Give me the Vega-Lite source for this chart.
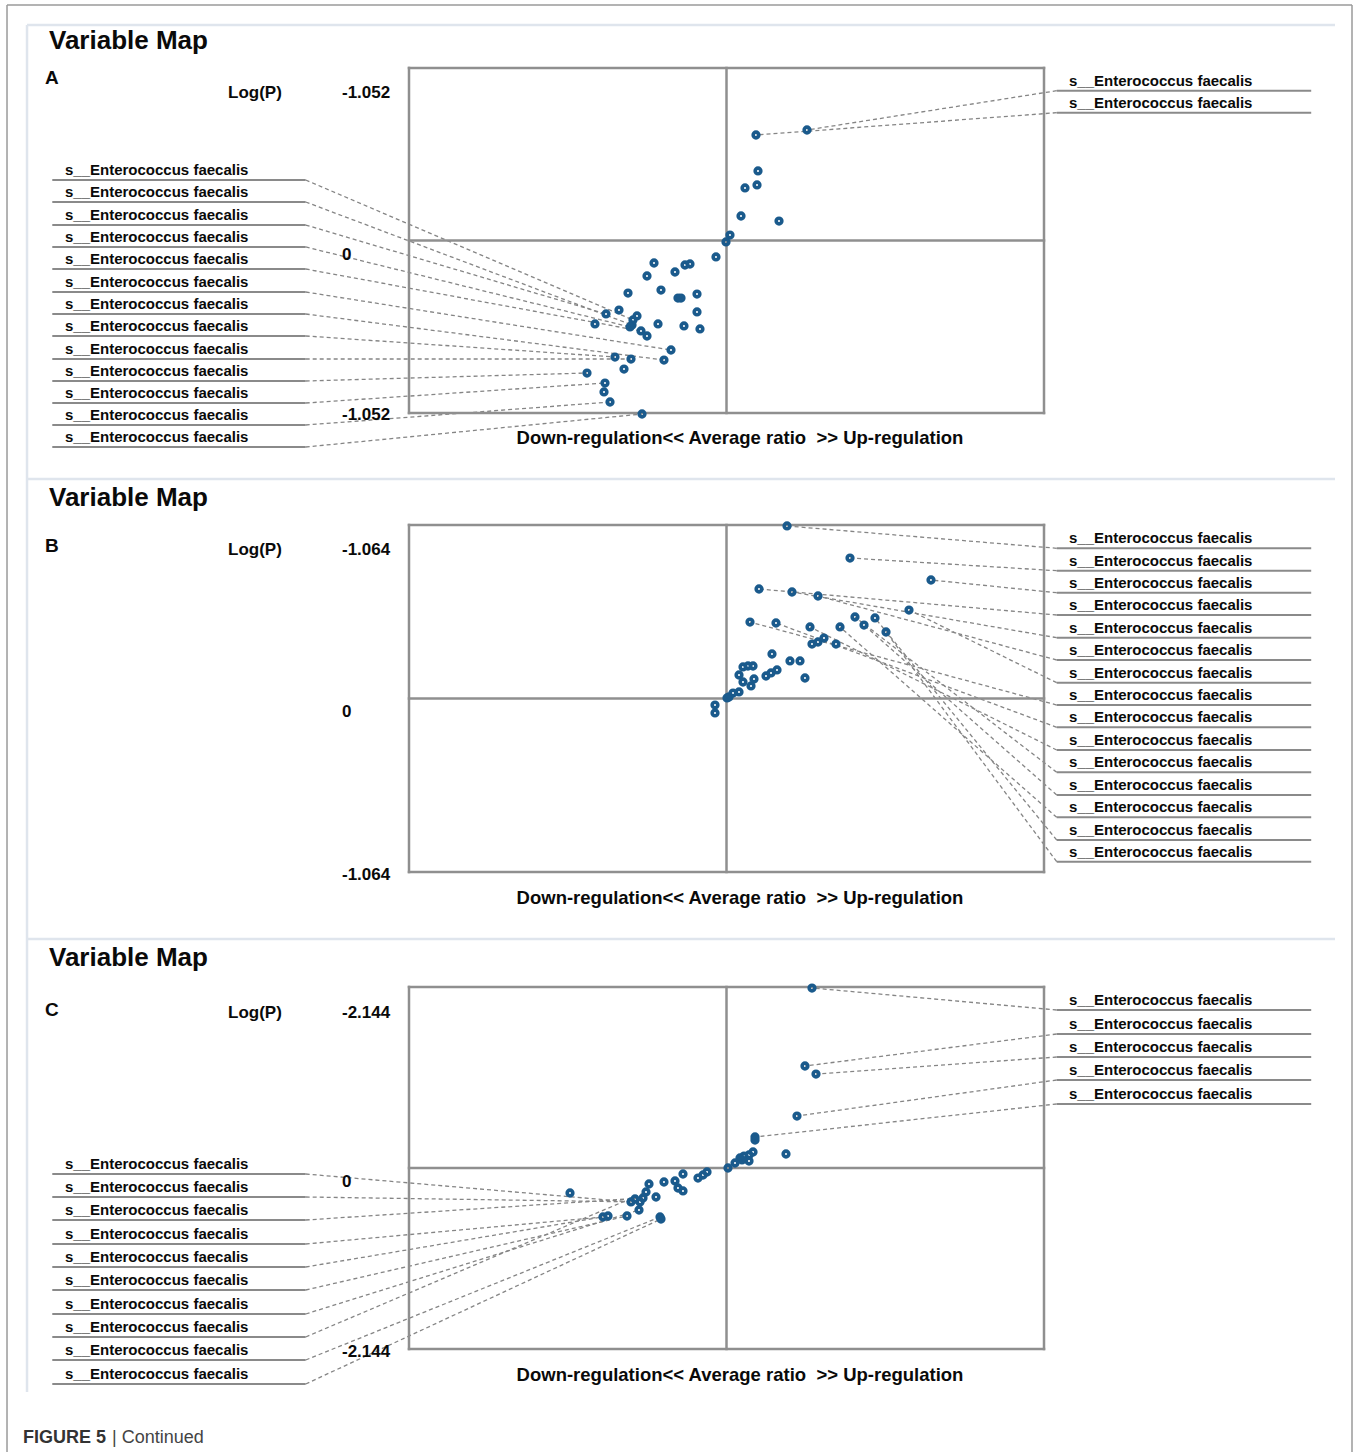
{
"$schema":"https://vega.github.io/schema/vega-lite/v6.json",
"padding":0,"spacing":0,"bounds":"flush","background":"white",
"config":{"view":{"stroke":null},"concat":{"spacing":0}},
"datasets":{
"pA":[{"x":0.0929,"y":0.6434},{"x":0.2535,"y":0.6739},{"x":0.0992,"y":0.4239},{"x":0.0583,"y":0.3202},{"x":0.0961,"y":0.3385},{"x":0.0457,"y":0.1494},{"x":0.1654,"y":0.1189},{"x":0.011,"y":0.0335},{"x":-0.0016,"y":-0.0091},{"x":-0.0331,"y":-0.1006},{"x":-0.2283,"y":-0.1372},{"x":-0.2504,"y":-0.2165},{"x":-0.1622,"y":-0.1921},{"x":-0.1307,"y":-0.1494},{"x":-0.115,"y":-0.1433},{"x":-0.3102,"y":-0.3202},{"x":-0.2063,"y":-0.3019},{"x":-0.1528,"y":-0.3507},{"x":-0.1433,"y":-0.3507},{"x":-0.0929,"y":-0.3263},{"x":-0.0929,"y":-0.436},{"x":-0.3795,"y":-0.4482},{"x":-0.3386,"y":-0.4239},{"x":-0.2819,"y":-0.4604},{"x":-0.2945,"y":-0.4848},{"x":-0.2976,"y":-0.5153},{"x":-0.3039,"y":-0.5275},{"x":-0.4142,"y":-0.5092},{"x":-0.2157,"y":-0.5092},{"x":-0.1339,"y":-0.5214},{"x":-0.0835,"y":-0.5397},{"x":-0.2693,"y":-0.5519},{"x":-0.2504,"y":-0.5824},{"x":-0.1748,"y":-0.6678},{"x":-0.1969,"y":-0.7288},{"x":-0.3512,"y":-0.7105},{"x":-0.3008,"y":-0.7227},{"x":-0.3228,"y":-0.7837},{"x":-0.4394,"y":-0.8081},{"x":-0.3827,"y":-0.8691},{"x":-0.3858,"y":-0.9239},{"x":-0.3669,"y":-0.9849},{"x":-0.2661,"y":-1.0581}],
"labA":[
{"n":"s__Enterococcus faecalis","tx":-2.0835,"u1":-2.1235,"u2":-1.3254,"ax":-1.3254,"uy":0.369,"px":-0.2945,"py":-0.4848},
{"n":"s__Enterococcus faecalis","tx":-2.0835,"u1":-2.1235,"u2":-1.3254,"ax":-1.3254,"uy":0.2348,"px":-0.2976,"py":-0.5153},
{"n":"s__Enterococcus faecalis","tx":-2.0835,"u1":-2.1235,"u2":-1.3254,"ax":-1.3254,"uy":0.0945,"px":-0.3795,"py":-0.4482},
{"n":"s__Enterococcus faecalis","tx":-2.0835,"u1":-2.1235,"u2":-1.3254,"ax":-1.3254,"uy":-0.0396,"px":-0.3039,"py":-0.5275},
{"n":"s__Enterococcus faecalis","tx":-2.0835,"u1":-2.1235,"u2":-1.3254,"ax":-1.3254,"uy":-0.1738,"px":-0.2693,"py":-0.5519},
{"n":"s__Enterococcus faecalis","tx":-2.0835,"u1":-2.1235,"u2":-1.3254,"ax":-1.3254,"uy":-0.3141,"px":-0.1748,"py":-0.6678},
{"n":"s__Enterococcus faecalis","tx":-2.0835,"u1":-2.1235,"u2":-1.3254,"ax":-1.3254,"uy":-0.4482,"px":-0.1969,"py":-0.7288},
{"n":"s__Enterococcus faecalis","tx":-2.0835,"u1":-2.1235,"u2":-1.3254,"ax":-1.3254,"uy":-0.5824,"px":-0.3512,"py":-0.7105},
{"n":"s__Enterococcus faecalis","tx":-2.0835,"u1":-2.1235,"u2":-1.3254,"ax":-1.3254,"uy":-0.7227,"px":-0.3008,"py":-0.7227},
{"n":"s__Enterococcus faecalis","tx":-2.0835,"u1":-2.1235,"u2":-1.3254,"ax":-1.3254,"uy":-0.8569,"px":-0.4394,"py":-0.8081},
{"n":"s__Enterococcus faecalis","tx":-2.0835,"u1":-2.1235,"u2":-1.3254,"ax":-1.3254,"uy":-0.991,"px":-0.3827,"py":-0.8691},
{"n":"s__Enterococcus faecalis","tx":-2.0835,"u1":-2.1235,"u2":-1.3254,"ax":-1.3254,"uy":-1.1252,"px":-0.3669,"py":-0.9849},
{"n":"s__Enterococcus faecalis","tx":-2.0835,"u1":-2.1235,"u2":-1.3254,"ax":-1.3254,"uy":-1.2594,"px":-0.2661,"py":-1.0581},
{"n":"s__Enterococcus faecalis","tx":1.0787,"u1":1.04,"u2":1.8416,"ax":1.04,"uy":0.9136,"px":0.2535,"py":0.6739},
{"n":"s__Enterococcus faecalis","tx":1.0787,"u1":1.04,"u2":1.8416,"ax":1.04,"uy":0.7794,"px":0.0929,"py":0.6434}],
"dA":[
{"k":"frame","x":-2.2661,"x2":1.9701,"y":1.4362,"y2":1.4362},{"k":"frame","x":-2.2661,"x2":-2.2661,"y":1.4362,"y2":-1.4606},{"k":"frame","x":1.9701,"x2":1.9701,"y":1.4362,"y2":-1.4606},
{"k":"faint","x":-2.2031,"x2":1.9165,"y":1.3142,"y2":1.3142},{"k":"faint","x":-2.2031,"x2":1.9165,"y":-1.4545,"y2":-1.4545},{"k":"faint","x":-2.2031,"x2":-2.2031,"y":1.3142,"y2":-1.4606},
{"k":"axis","x":-1,"x2":1,"y":1.052,"y2":1.052},{"k":"axis","x":-1,"x2":1,"y":-1.052,"y2":-1.052},{"k":"axis","x":-1,"x2":-1,"y":-1.052,"y2":1.052},{"k":"axis","x":1,"x2":1,"y":-1.052,"y2":1.052},{"k":"axis","x":0,"x2":0,"y":-1.052,"y2":1.052},{"k":"axis","x":-1,"x2":1,"y":0,"y2":0}],
"tA":[{"k":"title","t":"Variable Map","x":-2.1339,"y":1.2167},{"k":"letter","t":"A","x":-2.1465,"y":0.991},{"k":"tick","t":"Log(P)","x":-1.5701,"y":0.8995},{"k":"tick","t":"-1.052","x":-1.211,"y":0.8995},{"k":"tick","t":"0","x":-1.211,"y":-0.0884},{"k":"tick","t":"-1.052","x":-1.211,"y":-1.0642},{"k":"xtitle","t":"Down-regulation<< Average ratio\u00a0 >> Up-regulation","x":0.0425,"y":-1.2045}],
"pB":[{"x":0.1906,"y":1.0579},{"x":0.389,"y":0.8616},{"x":0.6441,"y":0.7267},{"x":0.1024,"y":0.6715},{"x":0.2063,"y":0.6531},{"x":0.2882,"y":0.6286},{"x":0.5748,"y":0.5427},{"x":0.074,"y":0.4691},{"x":0.1559,"y":0.463},{"x":0.263,"y":0.4385},{"x":0.3575,"y":0.4385},{"x":0.4047,"y":0.4998},{"x":0.4331,"y":0.4507},{"x":0.4677,"y":0.4937},{"x":0.5024,"y":0.4078},{"x":0.2693,"y":0.3342},{"x":0.2882,"y":0.3465},{"x":0.3071,"y":0.371},{"x":0.3449,"y":0.3342},{"x":0.1433,"y":0.2729},{"x":0.2,"y":0.23},{"x":0.2315,"y":0.23},{"x":0.2472,"y":0.1257},{"x":0.052,"y":0.1932},{"x":0.0677,"y":0.1993},{"x":0.0835,"y":0.1993},{"x":0.0394,"y":0.1441},{"x":0.052,"y":0.1012},{"x":0.0866,"y":0.1196},{"x":0.0772,"y":0.0767},{"x":0.1244,"y":0.138},{"x":0.1402,"y":0.1564},{"x":0.1591,"y":0.1748},{"x":0.0394,"y":0.0399},{"x":0.0205,"y":0.0337},{"x":0.0079,"y":0.0092},{"x":0.0016,"y":0.0031},{"x":-0.0362,"y":-0.0399},{"x":-0.0362,"y":-0.0889}],
"labB":[
{"n":"s__Enterococcus faecalis","tx":1.0787,"u1":1.04,"u2":1.8416,"ax":1.04,"uy":0.9211,"px":0.1906,"py":1.0579},
{"n":"s__Enterococcus faecalis","tx":1.0787,"u1":1.04,"u2":1.8416,"ax":1.04,"uy":0.7837,"px":0.389,"py":0.8616},
{"n":"s__Enterococcus faecalis","tx":1.0787,"u1":1.04,"u2":1.8416,"ax":1.04,"uy":0.6488,"px":0.6441,"py":0.7267},
{"n":"s__Enterococcus faecalis","tx":1.0787,"u1":1.04,"u2":1.8416,"ax":1.04,"uy":0.5121,"px":0.1024,"py":0.6715},
{"n":"s__Enterococcus faecalis","tx":1.0787,"u1":1.04,"u2":1.8416,"ax":1.04,"uy":0.3729,"px":0.2063,"py":0.6531},
{"n":"s__Enterococcus faecalis","tx":1.0787,"u1":1.04,"u2":1.8416,"ax":1.04,"uy":0.2361,"px":0.2882,"py":0.6286},
{"n":"s__Enterococcus faecalis","tx":1.0787,"u1":1.04,"u2":1.8416,"ax":1.04,"uy":0.0969,"px":0.5748,"py":0.5427},
{"n":"s__Enterococcus faecalis","tx":1.0787,"u1":1.04,"u2":1.8416,"ax":1.04,"uy":-0.0399,"px":0.074,"py":0.4691},
{"n":"s__Enterococcus faecalis","tx":1.0787,"u1":1.04,"u2":1.8416,"ax":1.04,"uy":-0.1766,"px":0.1559,"py":0.463},
{"n":"s__Enterococcus faecalis","tx":1.0787,"u1":1.04,"u2":1.8416,"ax":1.04,"uy":-0.3158,"px":0.263,"py":0.4385},
{"n":"s__Enterococcus faecalis","tx":1.0787,"u1":1.04,"u2":1.8416,"ax":1.04,"uy":-0.4526,"px":0.4047,"py":0.4998},
{"n":"s__Enterococcus faecalis","tx":1.0787,"u1":1.04,"u2":1.8416,"ax":1.04,"uy":-0.5918,"px":0.4331,"py":0.4507},
{"n":"s__Enterococcus faecalis","tx":1.0787,"u1":1.04,"u2":1.8416,"ax":1.04,"uy":-0.7286,"px":0.3575,"py":0.4385},
{"n":"s__Enterococcus faecalis","tx":1.0787,"u1":1.04,"u2":1.8416,"ax":1.04,"uy":-0.8678,"px":0.4677,"py":0.4937},
{"n":"s__Enterococcus faecalis","tx":1.0787,"u1":1.04,"u2":1.8416,"ax":1.04,"uy":-1.0008,"px":0.5024,"py":0.4078}],
"dB":[
{"k":"frame","x":-2.2661,"x2":-2.2661,"y":1.34,"y2":-1.481},{"k":"frame","x":1.9701,"x2":1.9701,"y":1.34,"y2":-1.481},
{"k":"faint","x":-2.2031,"x2":1.9165,"y":-1.4749,"y2":-1.4749},{"k":"faint","x":-2.2031,"x2":-2.2031,"y":1.34,"y2":-1.481},
{"k":"axis","x":-1,"x2":1,"y":1.064,"y2":1.064},{"k":"axis","x":-1,"x2":1,"y":-1.064,"y2":-1.064},{"k":"axis","x":-1,"x2":-1,"y":-1.064,"y2":1.064},{"k":"axis","x":1,"x2":1,"y":-1.064,"y2":1.064},{"k":"axis","x":0,"x2":0,"y":-1.064,"y2":1.064},{"k":"axis","x":-1,"x2":1,"y":0,"y2":0}],
"tB":[{"k":"title","t":"Variable Map","x":-2.1339,"y":1.2296},{"k":"letter","t":"B","x":-2.1465,"y":0.9352},{"k":"tick","t":"Log(P)","x":-1.5701,"y":0.9107},{"k":"tick","t":"-1.064","x":-1.211,"y":0.9107},{"k":"tick","t":"0","x":-1.211,"y":-0.0828},{"k":"tick","t":"-1.064","x":-1.211,"y":-1.0824},{"k":"xtitle","t":"Down-regulation<< Average ratio\u00a0 >> Up-regulation","x":0.0425,"y":-1.2235}],
"pC":[{"x":0.2693,"y":2.1321},{"x":0.2472,"y":1.2082},{"x":0.2819,"y":1.1134},{"x":0.222,"y":0.6159},{"x":0.0898,"y":0.3672},{"x":0.0898,"y":0.3317},{"x":0.1874,"y":0.1658},{"x":0.0835,"y":0.1895},{"x":0.0709,"y":0.154},{"x":0.0551,"y":0.1421},{"x":0.0425,"y":0.1185},{"x":0.0709,"y":0.0829},{"x":0.0488,"y":0.0948},{"x":0.0268,"y":0.0592},{"x":0.0047,"y":0},{"x":-0.0614,"y":-0.0474},{"x":-0.074,"y":-0.0829},{"x":-0.0898,"y":-0.1185},{"x":-0.137,"y":-0.0711},{"x":-0.1622,"y":-0.154},{"x":-0.1528,"y":-0.2369},{"x":-0.137,"y":-0.2724},{"x":-0.1969,"y":-0.1658},{"x":-0.2441,"y":-0.1895},{"x":-0.2535,"y":-0.2843},{"x":-0.222,"y":-0.3435},{"x":-0.263,"y":-0.3554},{"x":-0.2724,"y":-0.4027},{"x":-0.2756,"y":-0.4975},{"x":-0.3008,"y":-0.4027},{"x":-0.2882,"y":-0.3672},{"x":-0.4929,"y":-0.2961},{"x":-0.389,"y":-0.5804},{"x":-0.3732,"y":-0.5686},{"x":-0.3134,"y":-0.5686},{"x":-0.2094,"y":-0.5804},{"x":-0.2063,"y":-0.6041}],
"labC":[
{"n":"s__Enterococcus faecalis","tx":-2.0835,"u1":-2.1235,"u2":-1.3254,"ax":-1.3254,"uy":-0.0711,"px":-0.3008,"py":-0.4027},
{"n":"s__Enterococcus faecalis","tx":-2.0835,"u1":-2.1235,"u2":-1.3254,"ax":-1.3254,"uy":-0.3435,"px":-0.2724,"py":-0.4027},
{"n":"s__Enterococcus faecalis","tx":-2.0835,"u1":-2.1235,"u2":-1.3254,"ax":-1.3254,"uy":-0.6159,"px":-0.263,"py":-0.3554},
{"n":"s__Enterococcus faecalis","tx":-2.0835,"u1":-2.1235,"u2":-1.3254,"ax":-1.3254,"uy":-0.9002,"px":-0.389,"py":-0.5804},
{"n":"s__Enterococcus faecalis","tx":-2.0835,"u1":-2.1235,"u2":-1.3254,"ax":-1.3254,"uy":-1.1727,"px":-0.3732,"py":-0.5686},
{"n":"s__Enterococcus faecalis","tx":-2.0835,"u1":-2.1235,"u2":-1.3254,"ax":-1.3254,"uy":-1.4451,"px":-0.3134,"py":-0.5686},
{"n":"s__Enterococcus faecalis","tx":-2.0835,"u1":-2.1235,"u2":-1.3254,"ax":-1.3254,"uy":-1.7294,"px":-0.2756,"py":-0.4975},
{"n":"s__Enterococcus faecalis","tx":-2.0835,"u1":-2.1235,"u2":-1.3254,"ax":-1.3254,"uy":-2.0018,"px":-0.2535,"py":-0.2843},
{"n":"s__Enterococcus faecalis","tx":-2.0835,"u1":-2.1235,"u2":-1.3254,"ax":-1.3254,"uy":-2.2742,"px":-0.2094,"py":-0.5804},
{"n":"s__Enterococcus faecalis","tx":-2.0835,"u1":-2.1235,"u2":-1.3254,"ax":-1.3254,"uy":-2.5585,"px":-0.2063,"py":-0.6041},
{"n":"s__Enterococcus faecalis","tx":1.0787,"u1":1.04,"u2":1.8416,"ax":1.04,"uy":1.8715,"px":0.2693,"py":2.1321},
{"n":"s__Enterococcus faecalis","tx":1.0787,"u1":1.04,"u2":1.8416,"ax":1.04,"uy":1.5872,"px":0.2472,"py":1.2082},
{"n":"s__Enterococcus faecalis","tx":1.0787,"u1":1.04,"u2":1.8416,"ax":1.04,"uy":1.3148,"px":0.2819,"py":1.1134},
{"n":"s__Enterococcus faecalis","tx":1.0787,"u1":1.04,"u2":1.8416,"ax":1.04,"uy":1.0424,"px":0.222,"py":0.6159},
{"n":"s__Enterococcus faecalis","tx":1.0787,"u1":1.04,"u2":1.8416,"ax":1.04,"uy":0.7581,"px":0.0898,"py":0.3672}],
"dC":[
{"k":"frame","x":-2.2661,"x2":-2.2661,"y":2.7007,"y2":-2.748},{"k":"frame","x":1.9701,"x2":1.9701,"y":2.7007,"y2":-2.748},
{"k":"faint","x":-2.2031,"x2":-2.2031,"y":2.7007,"y2":-2.6533},
{"k":"axis","x":-1,"x2":1,"y":2.144,"y2":2.144},{"k":"axis","x":-1,"x2":1,"y":-2.144,"y2":-2.144},{"k":"axis","x":-1,"x2":-1,"y":-2.144,"y2":2.144},{"k":"axis","x":1,"x2":1,"y":-2.144,"y2":2.144},{"k":"axis","x":0,"x2":0,"y":-2.144,"y2":2.144},{"k":"axis","x":-1,"x2":1,"y":0,"y2":0}],
"tC":[{"k":"title","t":"Variable Map","x":-2.1339,"y":2.4875},{"k":"letter","t":"C","x":-2.1465,"y":1.8715},{"k":"tick","t":"Log(P)","x":-1.5701,"y":1.836},{"k":"tick","t":"-2.144","x":-1.211,"y":1.836},{"k":"tick","t":"0","x":-1.211,"y":-0.1658},{"k":"tick","t":"-2.144","x":-1.211,"y":-2.1795},{"k":"xtitle","t":"Down-regulation<< Average ratio\u00a0 >> Up-regulation","x":0.0425,"y":-2.4519}],
"dF":[{"k":"frame","x":-2.2661,"x2":-2.2661,"y":1,"y2":0},{"k":"frame","x":1.9701,"x2":1.9701,"y":1,"y2":0}],
"tF":[{"k":"b","t":"FIGURE 5","x":-2.2157,"y":0.27},{"k":"r","t":"| Continued","x":-1.9354,"y":0.27}]
},
"vconcat":[
{"width":1356,"height":480,
"layer":[
{"data":{"name":"dA"},"transform":[{"filter":"datum.k=='faint'"}],"mark":{"type":"rule","color":"#dfe5ed","strokeWidth":2.5},"encoding":{"x":{"field":"x","type":"quantitative","scale":{"domain":[-1,1],"range":[409,1044],"nice":false,"zero":false},"axis":null},"x2":{"field":"x2"},"y":{"field":"y","type":"quantitative","scale":{"domain":[-1.052,1.052],"range":[413,68],"nice":false,"zero":false},"axis":null},"y2":{"field":"y2"}}},
{"data":{"name":"dA"},"transform":[{"filter":"datum.k=='frame'"}],"mark":{"type":"rule","color":"#9a9a9a","strokeWidth":1.5},"encoding":{"x":{"field":"x","type":"quantitative","scale":{"domain":[-1,1],"range":[409,1044],"nice":false,"zero":false},"axis":null},"x2":{"field":"x2"},"y":{"field":"y","type":"quantitative","scale":{"domain":[-1.052,1.052],"range":[413,68],"nice":false,"zero":false},"axis":null},"y2":{"field":"y2"}}},
{"data":{"name":"labA"},"mark":{"type":"rule","color":"#858585","strokeWidth":1.3,"strokeDash":[4,3]},"encoding":{"x":{"field":"ax","type":"quantitative","scale":{"domain":[-1,1],"range":[409,1044],"nice":false,"zero":false},"axis":null},"x2":{"field":"px"},"y":{"field":"uy","type":"quantitative","scale":{"domain":[-1.052,1.052],"range":[413,68],"nice":false,"zero":false},"axis":null},"y2":{"field":"py"}}},
{"data":{"name":"dA"},"transform":[{"filter":"datum.k=='axis'"}],"mark":{"type":"rule","color":"#8f8f8f","strokeWidth":2.5,"strokeCap":"square"},"encoding":{"x":{"field":"x","type":"quantitative","scale":{"domain":[-1,1],"range":[409,1044],"nice":false,"zero":false},"axis":null},"x2":{"field":"x2"},"y":{"field":"y","type":"quantitative","scale":{"domain":[-1.052,1.052],"range":[413,68],"nice":false,"zero":false},"axis":null},"y2":{"field":"y2"}}},
{"data":{"name":"labA"},"mark":{"type":"rule","color":"#8a8a8a","strokeWidth":2},"encoding":{"x":{"field":"u1","type":"quantitative","scale":{"domain":[-1,1],"range":[409,1044],"nice":false,"zero":false},"axis":null},"x2":{"field":"u2"},"y":{"field":"uy","type":"quantitative","scale":{"domain":[-1.052,1.052],"range":[413,68],"nice":false,"zero":false},"axis":null},"y2":{"field":"uy"}}},
{"data":{"name":"labA"},"mark":{"type":"text","align":"left","baseline":"alphabetic","dy":-5,"font":"Liberation Sans","fontSize":15,"fontWeight":"bold","color":"#0a0a0a"},"encoding":{"x":{"field":"tx","type":"quantitative","scale":{"domain":[-1,1],"range":[409,1044],"nice":false,"zero":false},"axis":null},"y":{"field":"uy","type":"quantitative","scale":{"domain":[-1.052,1.052],"range":[413,68],"nice":false,"zero":false},"axis":null},"text":{"field":"n","type":"nominal"}}},
{"data":{"name":"pA"},"mark":{"type":"point","shape":"circle","filled":false,"stroke":"#1a5a8c","strokeWidth":3.6,"size":32,"opacity":1},"encoding":{"x":{"field":"x","type":"quantitative","scale":{"domain":[-1,1],"range":[409,1044],"nice":false,"zero":false},"axis":null},"y":{"field":"y","type":"quantitative","scale":{"domain":[-1.052,1.052],"range":[413,68],"nice":false,"zero":false},"axis":null}}},
{"data":{"name":"tA"},"transform":[{"filter":"datum.k=='title'"}],"mark":{"type":"text","align":"left","baseline":"middle","font":"Liberation Sans","fontSize":26,"fontWeight":"bold","color":"#0a0a0a"},"encoding":{"x":{"field":"x","type":"quantitative","scale":{"domain":[-1,1],"range":[409,1044],"nice":false,"zero":false},"axis":null},"y":{"field":"y","type":"quantitative","scale":{"domain":[-1.052,1.052],"range":[413,68],"nice":false,"zero":false},"axis":null},"text":{"field":"t","type":"nominal"}}},
{"data":{"name":"tA"},"transform":[{"filter":"datum.k=='letter'"}],"mark":{"type":"text","align":"left","baseline":"middle","font":"Liberation Sans","fontSize":19,"fontWeight":"bold","color":"#0a0a0a"},"encoding":{"x":{"field":"x","type":"quantitative","scale":{"domain":[-1,1],"range":[409,1044],"nice":false,"zero":false},"axis":null},"y":{"field":"y","type":"quantitative","scale":{"domain":[-1.052,1.052],"range":[413,68],"nice":false,"zero":false},"axis":null},"text":{"field":"t","type":"nominal"}}},
{"data":{"name":"tA"},"transform":[{"filter":"datum.k=='tick'"}],"mark":{"type":"text","align":"left","baseline":"middle","font":"Liberation Sans","fontSize":17,"fontWeight":"bold","color":"#0a0a0a"},"encoding":{"x":{"field":"x","type":"quantitative","scale":{"domain":[-1,1],"range":[409,1044],"nice":false,"zero":false},"axis":null},"y":{"field":"y","type":"quantitative","scale":{"domain":[-1.052,1.052],"range":[413,68],"nice":false,"zero":false},"axis":null},"text":{"field":"t","type":"nominal"}}},
{"data":{"name":"tA"},"transform":[{"filter":"datum.k=='xtitle'"}],"mark":{"type":"text","align":"center","baseline":"middle","font":"Liberation Sans","fontSize":18.5,"fontWeight":"bold","color":"#0a0a0a"},"encoding":{"x":{"field":"x","type":"quantitative","scale":{"domain":[-1,1],"range":[409,1044],"nice":false,"zero":false},"axis":null},"y":{"field":"y","type":"quantitative","scale":{"domain":[-1.052,1.052],"range":[413,68],"nice":false,"zero":false},"axis":null},"text":{"field":"t","type":"nominal"}}}
]},
{"width":1356,"height":460,
"layer":[
{"data":{"name":"dB"},"transform":[{"filter":"datum.k=='faint'"}],"mark":{"type":"rule","color":"#dfe5ed","strokeWidth":2.5},"encoding":{"x":{"field":"x","type":"quantitative","scale":{"domain":[-1,1],"range":[409,1044],"nice":false,"zero":false},"axis":null},"x2":{"field":"x2"},"y":{"field":"y","type":"quantitative","scale":{"domain":[-1.064,1.064],"range":[392,45],"nice":false,"zero":false},"axis":null},"y2":{"field":"y2"}}},
{"data":{"name":"dB"},"transform":[{"filter":"datum.k=='frame'"}],"mark":{"type":"rule","color":"#9a9a9a","strokeWidth":1.5},"encoding":{"x":{"field":"x","type":"quantitative","scale":{"domain":[-1,1],"range":[409,1044],"nice":false,"zero":false},"axis":null},"x2":{"field":"x2"},"y":{"field":"y","type":"quantitative","scale":{"domain":[-1.064,1.064],"range":[392,45],"nice":false,"zero":false},"axis":null},"y2":{"field":"y2"}}},
{"data":{"name":"labB"},"mark":{"type":"rule","color":"#858585","strokeWidth":1.3,"strokeDash":[4,3]},"encoding":{"x":{"field":"ax","type":"quantitative","scale":{"domain":[-1,1],"range":[409,1044],"nice":false,"zero":false},"axis":null},"x2":{"field":"px"},"y":{"field":"uy","type":"quantitative","scale":{"domain":[-1.064,1.064],"range":[392,45],"nice":false,"zero":false},"axis":null},"y2":{"field":"py"}}},
{"data":{"name":"dB"},"transform":[{"filter":"datum.k=='axis'"}],"mark":{"type":"rule","color":"#8f8f8f","strokeWidth":2.5,"strokeCap":"square"},"encoding":{"x":{"field":"x","type":"quantitative","scale":{"domain":[-1,1],"range":[409,1044],"nice":false,"zero":false},"axis":null},"x2":{"field":"x2"},"y":{"field":"y","type":"quantitative","scale":{"domain":[-1.064,1.064],"range":[392,45],"nice":false,"zero":false},"axis":null},"y2":{"field":"y2"}}},
{"data":{"name":"labB"},"mark":{"type":"rule","color":"#8a8a8a","strokeWidth":2},"encoding":{"x":{"field":"u1","type":"quantitative","scale":{"domain":[-1,1],"range":[409,1044],"nice":false,"zero":false},"axis":null},"x2":{"field":"u2"},"y":{"field":"uy","type":"quantitative","scale":{"domain":[-1.064,1.064],"range":[392,45],"nice":false,"zero":false},"axis":null},"y2":{"field":"uy"}}},
{"data":{"name":"labB"},"mark":{"type":"text","align":"left","baseline":"alphabetic","dy":-5,"font":"Liberation Sans","fontSize":15,"fontWeight":"bold","color":"#0a0a0a"},"encoding":{"x":{"field":"tx","type":"quantitative","scale":{"domain":[-1,1],"range":[409,1044],"nice":false,"zero":false},"axis":null},"y":{"field":"uy","type":"quantitative","scale":{"domain":[-1.064,1.064],"range":[392,45],"nice":false,"zero":false},"axis":null},"text":{"field":"n","type":"nominal"}}},
{"data":{"name":"pB"},"mark":{"type":"point","shape":"circle","filled":false,"stroke":"#1a5a8c","strokeWidth":3.6,"size":32,"opacity":1},"encoding":{"x":{"field":"x","type":"quantitative","scale":{"domain":[-1,1],"range":[409,1044],"nice":false,"zero":false},"axis":null},"y":{"field":"y","type":"quantitative","scale":{"domain":[-1.064,1.064],"range":[392,45],"nice":false,"zero":false},"axis":null}}},
{"data":{"name":"tB"},"transform":[{"filter":"datum.k=='title'"}],"mark":{"type":"text","align":"left","baseline":"middle","font":"Liberation Sans","fontSize":26,"fontWeight":"bold","color":"#0a0a0a"},"encoding":{"x":{"field":"x","type":"quantitative","scale":{"domain":[-1,1],"range":[409,1044],"nice":false,"zero":false},"axis":null},"y":{"field":"y","type":"quantitative","scale":{"domain":[-1.064,1.064],"range":[392,45],"nice":false,"zero":false},"axis":null},"text":{"field":"t","type":"nominal"}}},
{"data":{"name":"tB"},"transform":[{"filter":"datum.k=='letter'"}],"mark":{"type":"text","align":"left","baseline":"middle","font":"Liberation Sans","fontSize":19,"fontWeight":"bold","color":"#0a0a0a"},"encoding":{"x":{"field":"x","type":"quantitative","scale":{"domain":[-1,1],"range":[409,1044],"nice":false,"zero":false},"axis":null},"y":{"field":"y","type":"quantitative","scale":{"domain":[-1.064,1.064],"range":[392,45],"nice":false,"zero":false},"axis":null},"text":{"field":"t","type":"nominal"}}},
{"data":{"name":"tB"},"transform":[{"filter":"datum.k=='tick'"}],"mark":{"type":"text","align":"left","baseline":"middle","font":"Liberation Sans","fontSize":17,"fontWeight":"bold","color":"#0a0a0a"},"encoding":{"x":{"field":"x","type":"quantitative","scale":{"domain":[-1,1],"range":[409,1044],"nice":false,"zero":false},"axis":null},"y":{"field":"y","type":"quantitative","scale":{"domain":[-1.064,1.064],"range":[392,45],"nice":false,"zero":false},"axis":null},"text":{"field":"t","type":"nominal"}}},
{"data":{"name":"tB"},"transform":[{"filter":"datum.k=='xtitle'"}],"mark":{"type":"text","align":"center","baseline":"middle","font":"Liberation Sans","fontSize":18.5,"fontWeight":"bold","color":"#0a0a0a"},"encoding":{"x":{"field":"x","type":"quantitative","scale":{"domain":[-1,1],"range":[409,1044],"nice":false,"zero":false},"axis":null},"y":{"field":"y","type":"quantitative","scale":{"domain":[-1.064,1.064],"range":[392,45],"nice":false,"zero":false},"axis":null},"text":{"field":"t","type":"nominal"}}}
]},
{"width":1356,"height":460,
"layer":[
{"data":{"name":"dC"},"transform":[{"filter":"datum.k=='faint'"}],"mark":{"type":"rule","color":"#dfe5ed","strokeWidth":2.5},"encoding":{"x":{"field":"x","type":"quantitative","scale":{"domain":[-1,1],"range":[409,1044],"nice":false,"zero":false},"axis":null},"x2":{"field":"x2"},"y":{"field":"y","type":"quantitative","scale":{"domain":[-2.144,2.144],"range":[409,47],"nice":false,"zero":false},"axis":null},"y2":{"field":"y2"}}},
{"data":{"name":"dC"},"transform":[{"filter":"datum.k=='frame'"}],"mark":{"type":"rule","color":"#9a9a9a","strokeWidth":1.5},"encoding":{"x":{"field":"x","type":"quantitative","scale":{"domain":[-1,1],"range":[409,1044],"nice":false,"zero":false},"axis":null},"x2":{"field":"x2"},"y":{"field":"y","type":"quantitative","scale":{"domain":[-2.144,2.144],"range":[409,47],"nice":false,"zero":false},"axis":null},"y2":{"field":"y2"}}},
{"data":{"name":"labC"},"mark":{"type":"rule","color":"#858585","strokeWidth":1.3,"strokeDash":[4,3]},"encoding":{"x":{"field":"ax","type":"quantitative","scale":{"domain":[-1,1],"range":[409,1044],"nice":false,"zero":false},"axis":null},"x2":{"field":"px"},"y":{"field":"uy","type":"quantitative","scale":{"domain":[-2.144,2.144],"range":[409,47],"nice":false,"zero":false},"axis":null},"y2":{"field":"py"}}},
{"data":{"name":"dC"},"transform":[{"filter":"datum.k=='axis'"}],"mark":{"type":"rule","color":"#8f8f8f","strokeWidth":2.5,"strokeCap":"square"},"encoding":{"x":{"field":"x","type":"quantitative","scale":{"domain":[-1,1],"range":[409,1044],"nice":false,"zero":false},"axis":null},"x2":{"field":"x2"},"y":{"field":"y","type":"quantitative","scale":{"domain":[-2.144,2.144],"range":[409,47],"nice":false,"zero":false},"axis":null},"y2":{"field":"y2"}}},
{"data":{"name":"labC"},"mark":{"type":"rule","color":"#8a8a8a","strokeWidth":2},"encoding":{"x":{"field":"u1","type":"quantitative","scale":{"domain":[-1,1],"range":[409,1044],"nice":false,"zero":false},"axis":null},"x2":{"field":"u2"},"y":{"field":"uy","type":"quantitative","scale":{"domain":[-2.144,2.144],"range":[409,47],"nice":false,"zero":false},"axis":null},"y2":{"field":"uy"}}},
{"data":{"name":"labC"},"mark":{"type":"text","align":"left","baseline":"alphabetic","dy":-5,"font":"Liberation Sans","fontSize":15,"fontWeight":"bold","color":"#0a0a0a"},"encoding":{"x":{"field":"tx","type":"quantitative","scale":{"domain":[-1,1],"range":[409,1044],"nice":false,"zero":false},"axis":null},"y":{"field":"uy","type":"quantitative","scale":{"domain":[-2.144,2.144],"range":[409,47],"nice":false,"zero":false},"axis":null},"text":{"field":"n","type":"nominal"}}},
{"data":{"name":"pC"},"mark":{"type":"point","shape":"circle","filled":false,"stroke":"#1a5a8c","strokeWidth":3.6,"size":32,"opacity":1},"encoding":{"x":{"field":"x","type":"quantitative","scale":{"domain":[-1,1],"range":[409,1044],"nice":false,"zero":false},"axis":null},"y":{"field":"y","type":"quantitative","scale":{"domain":[-2.144,2.144],"range":[409,47],"nice":false,"zero":false},"axis":null}}},
{"data":{"name":"tC"},"transform":[{"filter":"datum.k=='title'"}],"mark":{"type":"text","align":"left","baseline":"middle","font":"Liberation Sans","fontSize":26,"fontWeight":"bold","color":"#0a0a0a"},"encoding":{"x":{"field":"x","type":"quantitative","scale":{"domain":[-1,1],"range":[409,1044],"nice":false,"zero":false},"axis":null},"y":{"field":"y","type":"quantitative","scale":{"domain":[-2.144,2.144],"range":[409,47],"nice":false,"zero":false},"axis":null},"text":{"field":"t","type":"nominal"}}},
{"data":{"name":"tC"},"transform":[{"filter":"datum.k=='letter'"}],"mark":{"type":"text","align":"left","baseline":"middle","font":"Liberation Sans","fontSize":19,"fontWeight":"bold","color":"#0a0a0a"},"encoding":{"x":{"field":"x","type":"quantitative","scale":{"domain":[-1,1],"range":[409,1044],"nice":false,"zero":false},"axis":null},"y":{"field":"y","type":"quantitative","scale":{"domain":[-2.144,2.144],"range":[409,47],"nice":false,"zero":false},"axis":null},"text":{"field":"t","type":"nominal"}}},
{"data":{"name":"tC"},"transform":[{"filter":"datum.k=='tick'"}],"mark":{"type":"text","align":"left","baseline":"middle","font":"Liberation Sans","fontSize":17,"fontWeight":"bold","color":"#0a0a0a"},"encoding":{"x":{"field":"x","type":"quantitative","scale":{"domain":[-1,1],"range":[409,1044],"nice":false,"zero":false},"axis":null},"y":{"field":"y","type":"quantitative","scale":{"domain":[-2.144,2.144],"range":[409,47],"nice":false,"zero":false},"axis":null},"text":{"field":"t","type":"nominal"}}},
{"data":{"name":"tC"},"transform":[{"filter":"datum.k=='xtitle'"}],"mark":{"type":"text","align":"center","baseline":"middle","font":"Liberation Sans","fontSize":18.5,"fontWeight":"bold","color":"#0a0a0a"},"encoding":{"x":{"field":"x","type":"quantitative","scale":{"domain":[-1,1],"range":[409,1044],"nice":false,"zero":false},"axis":null},"y":{"field":"y","type":"quantitative","scale":{"domain":[-2.144,2.144],"range":[409,47],"nice":false,"zero":false},"axis":null},"text":{"field":"t","type":"nominal"}}}
]},
{"width":1356,"height":52,
"layer":[
{"data":{"name":"dF"},"mark":{"type":"rule","color":"#9a9a9a","strokeWidth":1.5},"encoding":{"x":{"field":"x","type":"quantitative","scale":{"domain":[-1,1],"range":[409,1044],"nice":false,"zero":false},"axis":null},"x2":{"field":"x2"},"y":{"field":"y","type":"quantitative","scale":{"domain":[0,1],"range":[52,0],"nice":false,"zero":false},"axis":null},"y2":{"field":"y2"}}},
{"data":{"name":"tF"},"transform":[{"filter":"datum.k=='b'"}],"mark":{"type":"text","align":"left","baseline":"middle","font":"Liberation Sans","fontSize":18,"fontWeight":"bold","color":"#333"},"encoding":{"x":{"field":"x","type":"quantitative","scale":{"domain":[-1,1],"range":[409,1044],"nice":false,"zero":false},"axis":null},"y":{"field":"y","type":"quantitative","scale":{"domain":[0,1],"range":[52,0],"nice":false,"zero":false},"axis":null},"text":{"field":"t","type":"nominal"}}},
{"data":{"name":"tF"},"transform":[{"filter":"datum.k=='r'"}],"mark":{"type":"text","align":"left","baseline":"middle","font":"Liberation Sans","fontSize":18,"color":"#444"},"encoding":{"x":{"field":"x","type":"quantitative","scale":{"domain":[-1,1],"range":[409,1044],"nice":false,"zero":false},"axis":null},"y":{"field":"y","type":"quantitative","scale":{"domain":[0,1],"range":[52,0],"nice":false,"zero":false},"axis":null},"text":{"field":"t","type":"nominal"}}}
]}
]
}
